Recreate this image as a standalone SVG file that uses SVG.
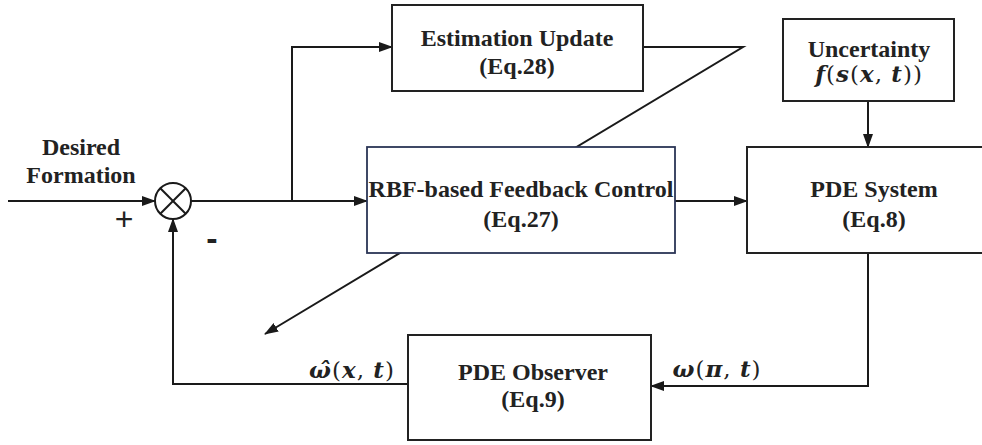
<svg xmlns="http://www.w3.org/2000/svg" width="982" height="445" viewBox="0 0 982 445">
<defs>
<marker id="arr" markerWidth="14" markerHeight="10" refX="13" refY="5" orient="auto" markerUnits="userSpaceOnUse">
<path d="M0,0 L14,5 L0,10 Z" fill="#1a1a1a"/>
</marker>
<style>
.box{fill:#fff;stroke:#222;stroke-width:2}
.navy{fill:#fff;stroke:#2b3556;stroke-width:1.8}
.ln{fill:none;stroke:#1a1a1a;stroke-width:2}
.t{font-family:"Liberation Serif","Times New Roman",serif;font-weight:bold;font-size:24px;fill:#222;text-anchor:middle}
.m{font-family:"DejaVu Serif","Liberation Serif",serif;font-weight:bold;font-style:italic;font-size:23px;fill:#222;letter-spacing:1px}
.p{font-style:normal;font-weight:normal}
</style>
</defs>
<rect width="982" height="445" fill="#fff"/>
<g id="connectors">
<line class="ln" x1="8" y1="201" x2="155" y2="201" marker-end="url(#arr)"/>
<polyline class="ln" points="191,201 292,201 292,47 392,47" marker-end="url(#arr)"/>
<line class="ln" x1="292" y1="201" x2="367" y2="201" marker-end="url(#arr)"/>
<polyline class="ln" points="643,47 743,47 265,334" marker-end="url(#arr)"/>
<line class="ln" x1="675" y1="201" x2="747" y2="201" marker-end="url(#arr)"/>
<line class="ln" x1="868" y1="101" x2="868" y2="147" marker-end="url(#arr)"/>
<polyline class="ln" points="868,253 868,386 651,386" marker-end="url(#arr)"/>
<polyline class="ln" points="408,384 173,384 173,219" marker-end="url(#arr)"/>
</g>
<g id="sum">
<circle cx="173" cy="201" r="18" fill="#fff" stroke="#1a1a1a" stroke-width="2"/>
<line class="ln" x1="160.3" y1="188.3" x2="185.7" y2="213.7"/>
<line class="ln" x1="185.7" y1="188.3" x2="160.3" y2="213.7"/>
</g>
<g id="input-label">
<text class="t" x="81" y="155">Desired</text>
<text class="t" x="81" y="183">Formation</text>
<text x="124" y="230" font-family="Liberation Sans,Arial,sans-serif" font-size="32" fill="#222" text-anchor="middle">+</text>
<text x="212" y="250" font-family="Liberation Sans,Arial,sans-serif" font-weight="bold" font-size="34" fill="#222" text-anchor="middle">-</text>
</g>
<g id="estimation">
<rect class="box" x="392" y="5" width="251" height="86"/>
<text class="t" x="517" y="46">Estimation Update</text>
<text class="t" x="517" y="74">(Eq.28)</text>
</g>
<g id="rbf">
<rect class="navy" x="367" y="147" width="308" height="106"/>
<text class="t" x="521" y="197">RBF-based Feedback Control</text>
<text class="t" x="521" y="227">(Eq.27)</text>
</g>
<g id="uncertainty">
<rect class="box" x="783" y="19" width="171" height="82"/>
<text class="t" x="869" y="57">Uncertainty</text>
<text class="m" x="869" y="82" text-anchor="middle">f<tspan class="p">(</tspan>s<tspan class="p">(</tspan>x<tspan class="p">, </tspan>t<tspan class="p">))</tspan></text>
</g>
<g id="pde-system">
<rect class="box" x="747" y="147" width="260" height="106"/>
<text class="t" x="874" y="197">PDE System</text>
<text class="t" x="874" y="227">(Eq.8)</text>
</g>
<g id="pde-observer">
<rect class="box" x="408" y="335" width="243" height="105"/>
<text class="t" x="533" y="380">PDE Observer</text>
<text class="t" x="533" y="407">(Eq.9)</text>
</g>
<g id="labels">
<text class="m" x="352" y="378" text-anchor="middle">ω̂<tspan class="p">(</tspan>x<tspan class="p">, </tspan>t<tspan class="p">)</tspan></text>
<text class="m" x="717" y="377" text-anchor="middle">ω<tspan class="p">(</tspan>π<tspan class="p">, </tspan>t<tspan class="p">)</tspan></text>
</g>
</svg>
